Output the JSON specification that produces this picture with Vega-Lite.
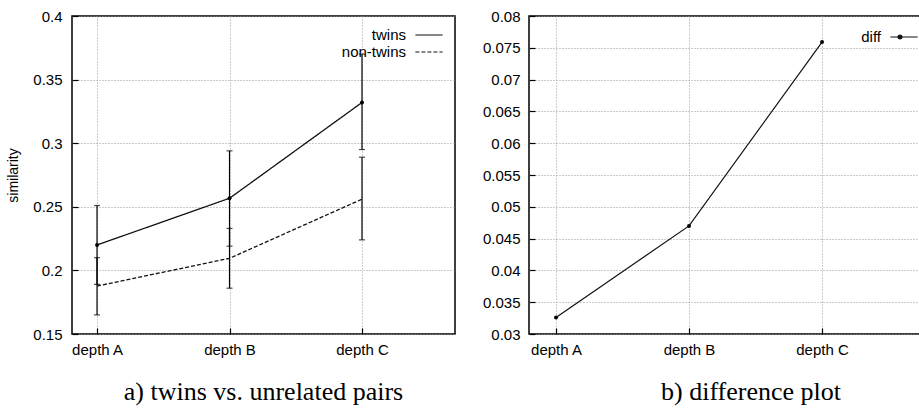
{
  "$schema": "https://vega.github.io/schema/vega-lite/v6.json",
  "background": "white",
  "padding": {"left": 6, "top": 8, "right": 0, "bottom": 0},
  "config": {
    "font": "Liberation Sans",
    "view": {"stroke": "black", "strokeWidth": 1.5},
    "axis": {
      "labelFont": "Liberation Sans", "labelFontSize": 15, "labelColor": "black",
      "grid": true, "gridColor": "#999999", "gridDash": [1, 2], "gridWidth": 1,
      "domain": false, "ticks": true, "tickSize": -6, "tickColor": "black", "tickWidth": 1.2,
      "titleFont": "Liberation Sans", "titleFontSize": 14, "titleFontWeight": "normal", "titleColor": "black"
    },
    "title": {"font": "Liberation Serif", "fontSize": 26, "fontWeight": "normal", "color": "black", "orient": "bottom", "offset": 22},
    "concat": {"spacing": 25}
  },
  "datasets": {
    "pairs": [
      {"depth": 1, "series": "twins", "value": 0.22, "lo": 0.189, "hi": 0.251},
      {"depth": 2, "series": "twins", "value": 0.2567, "lo": 0.219, "hi": 0.294},
      {"depth": 3, "series": "twins", "value": 0.332, "lo": 0.295, "hi": 0.370},
      {"depth": 1, "series": "non-twins", "value": 0.1877, "lo": 0.165, "hi": 0.21},
      {"depth": 2, "series": "non-twins", "value": 0.2095, "lo": 0.186, "hi": 0.233},
      {"depth": 3, "series": "non-twins", "value": 0.256, "lo": 0.224, "hi": 0.289}
    ],
    "diffs": [
      {"depth": 1, "series": "diff", "value": 0.0326},
      {"depth": 2, "series": "diff", "value": 0.047},
      {"depth": 3, "series": "diff", "value": 0.0759}
    ]
  },
  "hconcat": [
    {
      "width": 383, "height": 318,
      "title": {"text": "a) twins vs. unrelated pairs"},
      "data": {"name": "pairs"},
      "encoding": {
        "x": {"field": "depth", "type": "quantitative",
          "scale": {"domain": [0.811, 3.702], "nice": false, "zero": false},
          "axis": {"values": [1, 2, 3], "title": null, "labelPadding": 14,
            "labelExpr": "datum.value == 1 ? 'depth A' : datum.value == 2 ? 'depth B' : 'depth C'"}}
      },
      "layer": [
        {
          "mark": {"type": "rule", "color": "black", "strokeWidth": 1.2},
          "encoding": {
            "y": {"field": "lo", "type": "quantitative", "title": "similarity",
              "scale": {"domain": [0.15, 0.4], "nice": false, "zero": false},
              "axis": {"values": [0.15, 0.2, 0.25, 0.3, 0.35, 0.4], "format": ".2~f", "labelPadding": 16, "titlePadding": 12}},
            "y2": {"field": "hi"}
          }
        },
        {
          "mark": {"type": "tick", "orient": "horizontal", "size": 6, "thickness": 1.2, "color": "black"},
          "encoding": {"y": {"field": "lo", "type": "quantitative", "title": "similarity"}}
        },
        {
          "mark": {"type": "tick", "orient": "horizontal", "size": 6, "thickness": 1.2, "color": "black"},
          "encoding": {"y": {"field": "hi", "type": "quantitative", "title": "similarity"}}
        },
        {
          "mark": {"type": "line", "color": "#111111", "strokeWidth": 1.3},
          "encoding": {
            "y": {"field": "value", "type": "quantitative", "title": "similarity"},
            "strokeDash": {"field": "series", "type": "nominal",
              "scale": {"domain": ["twins", "non-twins"], "range": [[1, 0], [4, 2]]},
              "legend": {"title": null, "orient": "none", "legendX": 348, "legendY": 10,
                "symbolType": "M-1.7,0H1.7", "symbolSize": 256, "symbolStrokeWidth": 1.2,
                "symbolStrokeColor": "#111111", "symbolFillColor": "transparent",
                "labelAlign": "right", "labelOffset": -32, "labelFontSize": 15,
                "labelFont": "Liberation Sans", "labelColor": "black", "rowPadding": 0}}
          }
        },
        {
          "transform": [{"filter": "datum.series == 'twins'"}],
          "mark": {"type": "point", "filled": true, "size": 16, "color": "black", "opacity": 1},
          "encoding": {"y": {"field": "value", "type": "quantitative", "title": "similarity"}}
        }
      ]
    },
    {
      "width": 392, "height": 318,
      "title": {"text": "b) difference plot", "dx": 26},
      "data": {"name": "diffs"},
      "encoding": {
        "x": {"field": "depth", "type": "quantitative",
          "scale": {"domain": [0.797, 3.744], "nice": false, "zero": false},
          "axis": {"values": [1, 2, 3], "title": null, "labelPadding": 14,
            "labelExpr": "datum.value == 1 ? 'depth A' : datum.value == 2 ? 'depth B' : 'depth C'"}},
        "y": {"field": "value", "type": "quantitative", "title": null,
          "scale": {"domain": [0.03, 0.08], "nice": false, "zero": false},
          "axis": {"values": [0.03, 0.035, 0.04, 0.045, 0.05, 0.055, 0.06, 0.065, 0.07, 0.075, 0.08], "format": ".3~f", "labelPadding": 15}}
      },
      "layer": [
        {
          "mark": {"type": "line", "strokeWidth": 1.2},
          "encoding": {
            "color": {"field": "series", "type": "nominal",
              "scale": {"range": ["#111111"]},
              "legend": {"title": null, "orient": "none", "legendX": 823, "legendY": 12,
                "symbolType": "M-1.7,0H1.7M-0.75,0A0.25,0.25 0 1,0 -0.25,0A0.25,0.25 0 1,0 -0.75,0",
                "symbolSize": 256, "symbolStrokeWidth": 1.2, "symbolFillColor": "#111111",
                "labelAlign": "right", "labelOffset": -32, "labelFontSize": 15,
                "labelFont": "Liberation Sans", "labelColor": "black"}}
          }
        },
        {
          "mark": {"type": "point", "filled": true, "size": 16, "color": "black", "opacity": 1}
        }
      ]
    }
  ]
}
